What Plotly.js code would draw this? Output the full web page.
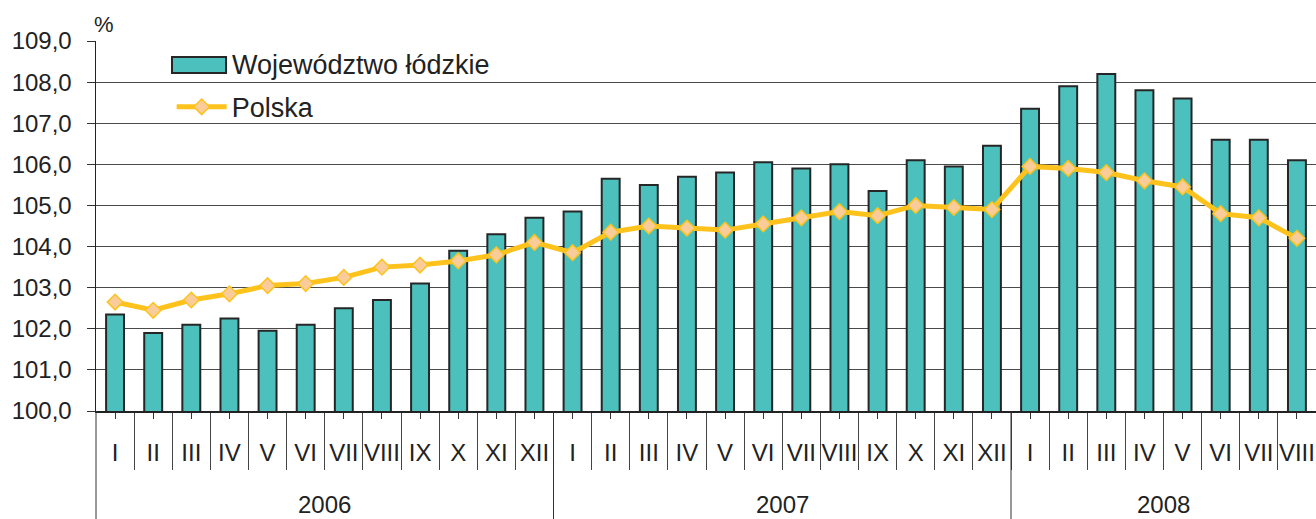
<!DOCTYPE html>
<html>
<head>
<meta charset="utf-8">
<script src="https://cdn.plot.ly/plotly-3.0.1.min.js"></script>
<style>html,body{margin:0;padding:0;background:#fff;}#chart{width:1316px;height:519px;}</style>
</head>
<body>
<div id="chart"></div>
<script>
const months = ["I","II","III","IV","V","VI","VII","VIII","IX","X","XI","XII",
                "I","II","III","IV","V","VI","VII","VIII","IX","X","XI","XII",
                "I","II","III","IV","V","VI","VII","VIII"];
const years = ["2006","2007","2008"];
const yearLengths = [12, 12, 8];
const seriesNames = ["Województwo łódzkie", "Polska"];
const lodzkie = [102.35,101.9,102.1,102.25,101.95,102.1,102.5,102.7,103.1,103.9,104.3,104.7,
                 104.85,105.65,105.5,105.7,105.8,106.05,105.9,106.0,105.35,106.1,105.95,106.45,
                 107.35,107.9,108.2,107.8,107.6,106.6,106.6,106.1];
const polska = [102.65,102.45,102.7,102.85,103.05,103.1,103.25,103.5,103.55,103.65,103.8,104.1,
                103.85,104.35,104.5,104.45,104.4,104.55,104.7,104.85,104.75,105.0,104.95,104.9,
                105.95,105.9,105.8,105.6,105.45,104.8,104.7,104.2];
const yTicks = [100,101,102,103,104,105,106,107,108,109];

const idx = months.map((m,i)=>i);
const FONT = "Liberation Sans, Arial, sans-serif";
const TXT = "#222";
const BAR_FILL = "#4BC0BD", BAR_LINE = "#262626";

const traces = [
  {type:"bar", x: idx, y: lodzkie, name:seriesNames[0], width:0.47, showlegend:false,
   marker:{color:BAR_FILL, line:{color:BAR_LINE, width:2}}},
  {type:"scatter", mode:"lines+markers", x: idx, y: polska, name:seriesNames[1],
   line:{color:"#FDC31C", width:5},
   marker:{symbol:"diamond", size:12, color:"#F9CC9A", line:{color:"#FDC31C", width:1.5}}}
];

const shapes = [];
const annotations = [];
let start = 0;
shapes.push({type:"line", xref:"paper", yref:"paper", x0:0, x1:0, y0:-0.30, y1:0,
             line:{color:"#333", width:1}});
years.forEach((yr,k)=>{
  const end = start + yearLengths[k];
  annotations.push({xref:"x", yref:"paper", x:(start+end-1)/2, y:-0.254, text:yr,
    showarrow:false, yanchor:"middle", font:{family:FONT, size:24, color:TXT}});
  if (k < years.length-1) {
    shapes.push({type:"line", xref:"x", yref:"paper", x0:end-0.5, x1:end-0.5, y0:-0.30, y1:0,
                 line:{color:"#333", width:1}});
  }
  start = end;
});
// legend entry for the bar series: wide swatch + label
shapes.push({type:"rect", xref:"paper", yref:"paper", x0:0.0623, x1:0.1066, y0:0.9135, y1:0.9568,
             fillcolor:BAR_FILL, line:{color:BAR_LINE, width:2}, layer:"above"});
annotations.push({xref:"paper", yref:"paper", x:0.1115, y:0.935, xanchor:"left", yanchor:"middle",
  xshift:-2, text:seriesNames[0], showarrow:false, font:{family:FONT, size:27, color:TXT}});
annotations.push({xref:"paper", yref:"paper", x:0, y:1, xanchor:"left", yanchor:"bottom",
  xshift:-4, yshift:2, text:"%", showarrow:false, font:{family:FONT, size:22, color:TXT}});

const minorVals = idx.slice(0, idx.length-1).map(i=>i+0.5);

const layout = {
  width:1316, height:519,
  margin:{l:96, r:0, t:41, b:108},
  paper_bgcolor:"#fff", plot_bgcolor:"#fff",
  font:{family:FONT, color:TXT, size:24},
  showlegend:true,
  xaxis:{range:[-0.5, idx.length-0.5], tickmode:"array", tickvals:idx, ticktext:months,
    ticks:"outside", ticklen:6, tickcolor:"#333", tickwidth:1,
    showline:true, linecolor:"#222", linewidth:1.5, showgrid:false, zeroline:false,
    tickfont:{family:FONT, size:24, color:TXT}, ticklabelstandoff:14,
    minor:{tickmode:"array", tickvals:minorVals, ticks:"outside", ticklen:57,
           tickcolor:"#444", tickwidth:1, showgrid:false}},
  yaxis:{range:[100,109], tickmode:"array", tickvals:yTicks,
    ticktext: yTicks.map(v=>v.toFixed(1).replace(".",",")),
    ticks:"outside", ticklen:8, tickcolor:"#333", ticklabelstandoff:10,
    showline:true, linecolor:"#222", linewidth:1.5,
    showgrid:true, gridcolor:"#4a4a4a", gridwidth:1.2, zeroline:false,
    tickfont:{family:FONT, size:24, color:TXT}},
  legend:{x:0.062, y:0.821, xanchor:"left", yanchor:"middle", bgcolor:"rgba(0,0,0,0)",
    itemwidth:50, font:{family:FONT, size:27, color:TXT}},
  shapes:shapes, annotations:annotations
};

Plotly.newPlot("chart", traces, layout, {displayModeBar:false, staticPlot:true});
</script>
</body>
</html>
